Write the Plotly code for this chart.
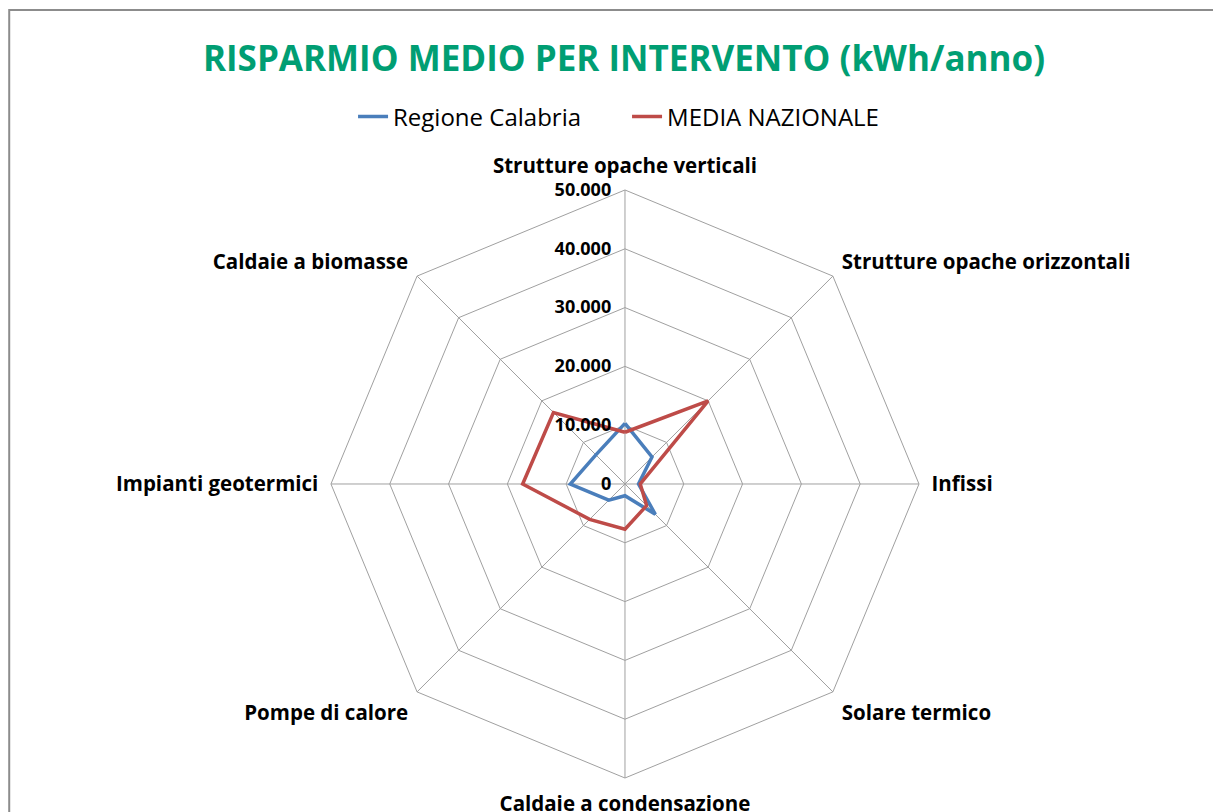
import plotly.graph_objects as go

# categories in clockwise order starting from the top
categorie = [
    "Strutture opache verticali",
    "Strutture opache orizzontali",
    "Infissi",
    "Solare termico",
    "Caldaie a condensazione",
    "Pompe di calore",
    "Impianti geotermici",
    "Caldaie a biomasse",
]

regione_calabria = [10300, 6500, 2300, 7300, 2000, 3900, 9300, 7000]
media_nazionale = [8800, 20000, 2600, 5200, 7700, 8500, 17400, 17200]

radial_ticks = [0, 10000, 20000, 30000, 40000, 50000]
radial_labels = ["0", "10.000", "20.000", "30.000", "40.000", "50.000"]

font_family = "Open Sans, Lato, sans-serif"

fig = go.Figure()

# close the polygons by repeating the first point
fig.add_trace(go.Scatterpolar(
    r=regione_calabria + regione_calabria[:1],
    theta=categorie + categorie[:1],
    mode="lines",
    name="Regione Calabria",
    line=dict(color="#4A7EBB", width=3.5),
))
fig.add_trace(go.Scatterpolar(
    r=media_nazionale + media_nazionale[:1],
    theta=categorie + categorie[:1],
    mode="lines",
    name="MEDIA NAZIONALE",
    line=dict(color="#BE4B48", width=3.5),
))

fig.update_layout(
    width=1221,
    height=812,
    margin=dict(l=0, r=0, t=0, b=0),
    paper_bgcolor="white",
    separators=",.",
    font=dict(family=font_family, color="black"),
    title=dict(
        text="<b>RISPARMIO MEDIO PER INTERVENTO (kWh/anno)</b>",
        font=dict(size=35, color="#009E73", family=font_family),
        x=0.5045,
        xanchor="center",
        y=0.938,
        yanchor="middle",
    ),
    legend=dict(
        orientation="h",
        x=0.507,
        xanchor="center",
        y=0.866,
        yanchor="middle",
        font=dict(size=24),
        entrywidth=229,
        entrywidthmode="pixels",
    ),
    polar=dict(
        domain=dict(x=[0.2645, 0.7461], y=[0.0517, 0.7759]),
        gridshape="linear",
        bgcolor="white",
        angularaxis=dict(
            direction="clockwise",
            rotation=90,
            tickvals=categorie,
            ticktext=[f"<b>{c}</b>" for c in categorie],
            showline=True,
            linecolor="#A0A0A0",
            linewidth=1,
            gridcolor="#A0A0A0",
            gridwidth=1,
            ticks="outside",
            ticklen=8,
            tickcolor="rgba(0,0,0,0)",
            tickfont=dict(size=20.5, family=font_family),
        ),
        radialaxis=dict(
            range=[0, 50000],
            tickvals=radial_ticks,
            ticktext=[f"<b>{t}</b>" for t in radial_labels],
            angle=90,
            side="counterclockwise",
            tickangle=90,
            showline=False,
            gridcolor="#A0A0A0",
            gridwidth=1,
            ticks="outside",
            ticklen=7,
            tickcolor="rgba(0,0,0,0)",
            tickfont=dict(size=18, family=font_family),
        ),
    ),
    shapes=[dict(
        type="rect",
        xref="paper",
        yref="paper",
        x0=0.001,
        x1=1.02,
        y0=-0.02,
        y1=0.9975,
        line=dict(color="#8C8C8C", width=2),
    )],
)

fig.write_html("out.html")
